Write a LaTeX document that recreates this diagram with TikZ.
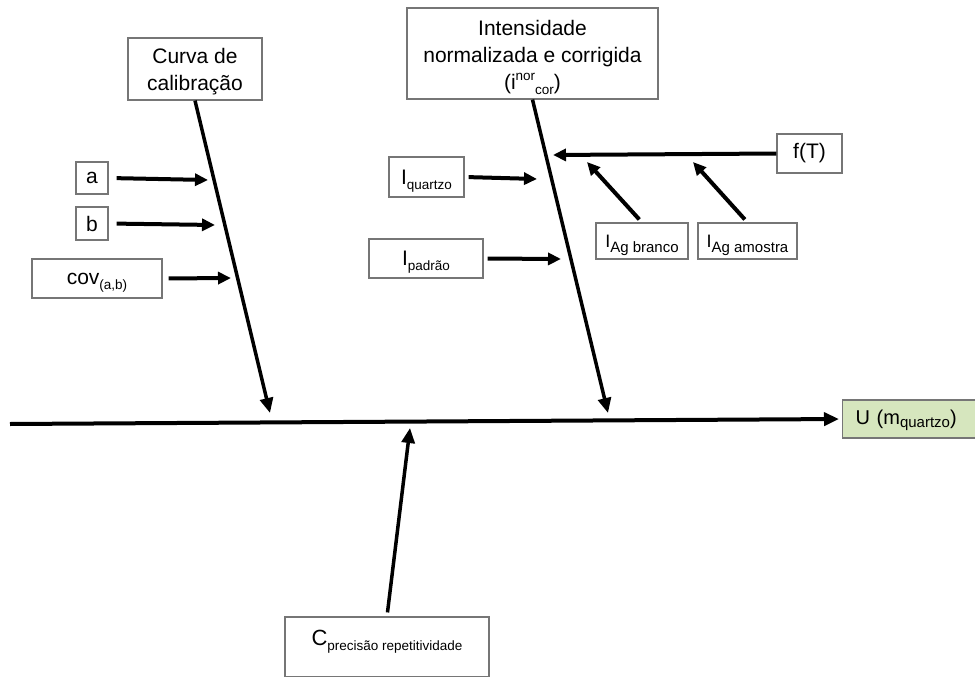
\documentclass[tikz,border=0pt]{standalone}
\usepackage{fontspec}
\setmainfont{Liberation Sans}
\usetikzlibrary{arrows.meta}
\definecolor{boxline}{RGB}{118,118,118}
\definecolor{resultfill}{RGB}{214,230,190}
% lowered / raised small text for indices (smashed, so labels stay centred)
\newcommand{\sublo}[2][13.5]{\smash{\raisebox{-5pt}{\fontsize{#1}{#1}\selectfont #2}}}
\newcommand{\suphi}[2][13.5]{\smash{\raisebox{9pt}{\fontsize{#1}{#1}\selectfont #2}}}

\begin{document}
\begin{tikzpicture}[x=1pt,y=-1pt,
  box/.style={draw=boxline, line width=1.2pt, fill=white, inner sep=0pt,
    align=center, font=\fontsize{21}{27}\selectfont},
  spine/.style={line width=3.5pt, -{Triangle[length=15pt,width=13pt]}},
  feed/.style={line width=4pt, -{Triangle[length=13pt,width=12pt]}},
]
\useasboundingbox (0,0) rectangle (975,677);

% cause boxes
\node[box, minimum width=134, minimum height=62] (curva) at (195,69)
  {\rule{0pt}{21pt}Curva de\\calibração};
\node[box, minimum width=251, minimum height=91] (int) at (532.5,53.5)
  {\rule{0pt}{23pt}Intensidade\\normalizada e corrigida\\(i\suphi{nor}\sublo{cor})};

\node[box, minimum width=32, minimum height=32] (a) at (92,178) {a};
\node[box, minimum width=32, minimum height=33] (b) at (92,223.5) {b};
\node[box, minimum width=130, minimum height=39] (cov) at (97,278.5)
  {cov\sublo{(a,b)}};

\node[box, minimum width=75, minimum height=40] (iq) at (426.5,177)
  {I\sublo{quartzo}};
\node[box, minimum width=114, minimum height=39] (ip) at (426,258.5)
  {I\sublo{padrão}};
\node[box, minimum width=65, minimum height=39] (ft) at (809.5,153.5) {f(T)};
\node[box, minimum width=92, minimum height=36, font=\fontsize{18}{22}\selectfont]
  (ib) at (642,241) {I\sublo[15]{Ag branco}};
\node[box, minimum width=99, minimum height=36, font=\fontsize{18}{22}\selectfont]
  (ia) at (747.5,241) {I\sublo[15]{Ag amostra}};

\node[box, minimum width=204, minimum height=60, text height=15pt, text depth=19pt,
  font=\fontsize{22}{26}\selectfont]
  (cp) at (387,647) {C\sublo{precisão repetitividade}};

% effect box
\node[box, fill=resultfill, anchor=west, minimum height=38, inner xsep=13pt,
  text width=130, align=left, font=\fontsize{20}{26}\selectfont]
  (u) at (842,419) {U (m\smash{\raisebox{-3pt}{\fontsize{15}{15}\selectfont quartzo}})};

% spine and ends of the arrows
\coordinate (m0) at (10,424);
\coordinate (ct) at (270,413);
\coordinate (it) at (608,413);
\coordinate (pt) at (410,428);
\coordinate (fa) at (208,180);
\coordinate (fb) at (215,225);
\coordinate (fc) at (231,278);
\coordinate (fq) at (537,179);
\coordinate (fp) at (561,259);
\coordinate (ff) at (553,155);
\coordinate (fbr) at (587,162);
\coordinate (fam) at (693,162);

\draw[line width=4pt, -{Triangle[length=15pt,width=13pt]}, shorten >=3pt] (m0) -- (u.west);

\draw[spine] (curva.south) -- (ct);
\draw[spine] (int.south) -- (it);
\draw[spine, shorten <=4pt] (cp.north) -- (pt);

\draw[feed, shorten <=8pt] (a.east) -- (fa);
\draw[feed, shorten <=8pt] (b.east) -- (fb);
\draw[feed, shorten <=6pt] (cov.east) -- (fc);
\draw[feed, shorten <=4pt] (iq.east) -- (fq);
\draw[feed, shorten <=4pt] (ip.east) -- (fp);
\draw[feed] (ft.west) -- (ff);
\draw[feed, shorten <=4pt] (ib.north) -- (fbr);
\draw[feed, shorten <=4pt] (ia.north) -- (fam);
\end{tikzpicture}
\end{document}
